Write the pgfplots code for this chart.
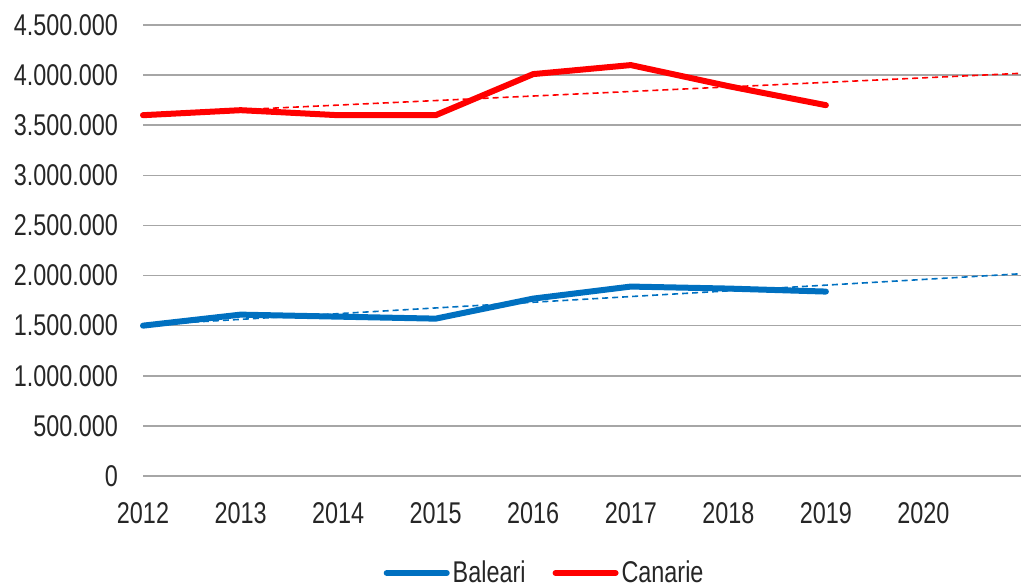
\documentclass[border=0pt]{standalone}
\usepackage{fontspec}
\setmainfont{Liberation Sans}[FakeStretch=0.78]
\usepackage{pgfplots}
\pgfplotsset{compat=1.18}

\definecolor{bal}{HTML}{0070C0}
\definecolor{can}{HTML}{FF0000}
\definecolor{gridc}{HTML}{A6A6A6}
\definecolor{txt}{HTML}{262626}

\begin{document}
\begin{tikzpicture}
\begin{axis}[
    scale only axis,
    width=439bp, height=225.5bp,
    xmin=2012, xmax=2021,
    ymin=0, ymax=4500000,
    xtick={2012,2013,...,2020},
    ytick={0,500000,...,4500000},
    axis line style={draw=none},
    major tick length=0pt,
    ymajorgrids=true,
    grid style={gridc, line width=0.75bp},
    tick label style={font=\fontsize{15bp}{17bp}\selectfont, text=txt},
    /pgf/number format/assume math mode=true,
    scaled y ticks=false,
    yticklabel style={/pgf/number format/fixed, /pgf/number format/precision=0,
        /pgf/number format/1000 sep={.}, xshift=-9bp},
    xticklabel style={/pgf/number format/1000 sep={}, yshift=-10bp},
    legend columns=2,
    legend style={at={(0.458,0)}, anchor=center, yshift=-48.5bp,
        draw=none, fill=none, font=\fontsize{15bp}{17bp}\selectfont, text=txt,
        /tikz/every even column/.append style={column sep=12bp},
        nodes={inner sep=1.5bp}},
    legend image code/.code={\draw[#1, line cap=round] (0bp,0bp) -- (30bp,0bp);},
    clip=false,
]
% trend lines (linear, end points)
\addplot[bal, line width=0.8bp, dash pattern=on 3bp off 2bp, forget plot]
    coordinates {(2012,1506000) (2021,2018000)};
\addplot[can, line width=0.8bp, dash pattern=on 3bp off 2bp, forget plot]
    coordinates {(2012,3610000) (2021,4018000)};
% series
\addplot[bal, line width=3bp, line join=round, line cap=round] coordinates {
    (2012,1500000) (2013,1610000) (2014,1590000) (2015,1570000)
    (2016,1770000) (2017,1890000) (2018,1870000) (2019,1840000)};
\addlegendentry{Baleari}
\addplot[can, line width=3bp, line join=round, line cap=round] coordinates {
    (2012,3600000) (2013,3650000) (2014,3600000) (2015,3600000)
    (2016,4010000) (2017,4100000) (2018,3890000) (2019,3700000)};
\addlegendentry{Canarie}
\coordinate (sw) at (rel axis cs:0,0);
\coordinate (ne) at (rel axis cs:1,1);
\end{axis}
\pgfresetboundingbox
\path ([xshift=-71.5bp,yshift=-55.5bp]sw) rectangle ([yshift=12.5bp]ne);
\end{tikzpicture}
\end{document}
